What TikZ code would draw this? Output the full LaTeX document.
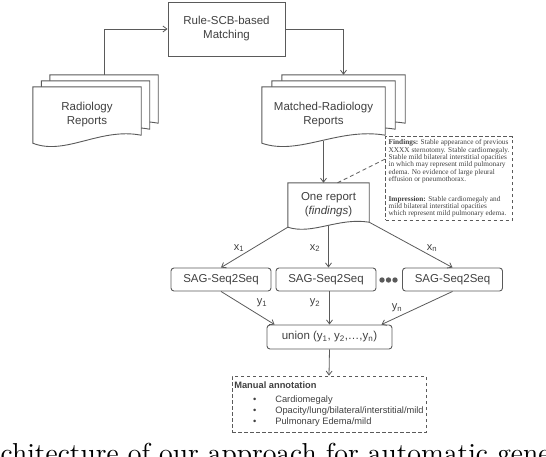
\documentclass[tikz,border=0pt]{standalone}
\usepackage{fontspec}
\usetikzlibrary{calc, arrows.meta, backgrounds}
\newfontfamily\arialfont{Liberation Sans}
\newfontfamily\timesfont{Liberation Serif}
\newfontfamily\capfont{lmroman10-regular.otf}
\definecolor{linegray}{HTML}{5A5A5A}
\definecolor{textgray}{HTML}{404040}

% outline of a report page, wavy lower edge
\newcommand{\pageoutline}[2]{%
  \draw[pageline] (#1.south west) -- (#1.north west) -- (#1.north east)
    -- ($(#1.south east)+(0,-#2)$)
    .. controls ($(#1.south west)!0.62!(#1.south east)+(0,-2*#2)$)
    and ($(#1.south west)!0.3!(#1.south east)+(0,1.6*#2)$) .. (#1.south west) -- cycle;}

\begin{document}
\begin{tikzpicture}[
    x=1pt, y=-1pt,
    >={Straight Barb[length=4pt,width=6pt]},
    sansfont/.style={text=textgray, font=\arialfont\fontsize{11.5}{14}\selectfont},
    rulebox/.style={rectangle, draw=linegray, line width=0.9pt, align=center, sansfont},
    reportpage/.style={rectangle, inner sep=0pt, minimum height=56pt, align=center, sansfont},
    pageline/.style={draw=linegray, line width=0.9pt, fill=white},
    seqbox/.style={rulebox, rounded corners=3pt, minimum width=100pt, minimum height=23pt},
    notebox/.style={rectangle, draw=linegray, line width=0.8pt, dash pattern=on 3.5pt off 2.5pt, align=left, text=textgray},
    flow/.style={draw=linegray, line width=0.8pt, ->},
    varlabel/.style={inner sep=0pt, text=textgray, font=\arialfont\fontsize{11}{13}\selectfont}
]
    \useasboundingbox (0,0) rectangle (546,456);
    \clip (0,0) rectangle (546,456);

    % matching step
    \node[rulebox, minimum width=117pt, minimum height=54pt] (rule) at (226.5,29) {Rule-SCB-based\\Matching};

    % report stacks
    \node[reportpage, minimum width=108pt] (rr) at (87,115) {Radiology\\Reports};
    \node[reportpage, minimum width=108pt] (rr2) at ($(rr)+(8.5,-6)$) {};
    \node[reportpage, minimum width=108pt] (rr3) at ($(rr)+(17,-12)$) {};

    \node[reportpage, minimum width=123pt] (mr) at (323.5,115) {Matched-Radiology\\Reports};
    \node[reportpage, minimum width=123pt] (mr2) at ($(mr)+(10,-6)$) {};
    \node[reportpage, minimum width=123pt] (mr3) at ($(mr)+(20,-12)$) {};

    \node[reportpage, minimum width=81pt, minimum height=44pt] (one) at (328.5,205) {One report\\(\textit{findings})};

    \begin{scope}[on background layer]
        \pageoutline{rr3}{8}
        \pageoutline{rr2}{8}
        \pageoutline{rr}{8}
        \pageoutline{mr3}{8}
        \pageoutline{mr2}{8}
        \pageoutline{mr}{8}
        \pageoutline{one}{5}
    \end{scope}

    % example report text
    \node[notebox, minimum width=126pt, inner sep=3pt, font=\timesfont\fontsize{7.3}{7.4}\selectfont] (find) at (449,178.5)
        {\textbf{Findings:} Stable appearance of previous\\
         XXXX sternotomy. Stable cardiomegaly.\\
         Stable mild bilateral interstitial opacities\\
         in which may represent mild pulmonary\\
         edema. No evidence of large pleural\\
         effusion or pneumothorax.\\[12pt]
         \textbf{Impression:} Stable cardiomegaly and\\
         mild bilateral interstitial opacities\\
         which represent mild pulmonary edema.};

    % models
    \node[seqbox] (sag1) at (221,279.5) {SAG-Seq2Seq};
    \node[seqbox] (sag2) at (326,279.5) {SAG-Seq2Seq};
    \node[seqbox] (sag3) at (452.5,279.5) {SAG-Seq2Seq};
    \foreach \dx in {382,388.5,395}
        \fill[linegray] (\dx,280) circle (2.7pt);

    \node[seqbox, minimum width=125pt, minimum height=24pt] (union) at (329.5,337) {union (y\textsubscript{1}, y\textsubscript{2},\ldots,y\textsubscript{n})};

    \node[notebox, minimum width=194pt, minimum height=56pt, inner sep=2pt, font=\arialfont\fontsize{9.3}{11}\selectfont] (manual) at (329,404)
        {\textbf{Manual annotation}\\[2.5pt]
         \makebox[41pt]{\textbullet}Cardiomegaly\\
         \makebox[41pt]{\textbullet}Opacity/lung/bilateral/interstitial/mild\\
         \makebox[41pt]{\textbullet}Pulmonary Edema/mild};

    % connectors
    \draw[flow] (rr3.north) |- (rule.west);
    \draw[flow] (rule.east) -| (mr3.north);
    \draw[flow] ([yshift=2pt]mr.south) -- (mr.south |- one.north);
    \draw[draw=linegray, line width=0.8pt, dash pattern=on 4pt off 3pt] ([xshift=9pt]one.north) -- ([yshift=19.5pt]find.west);

    \draw[flow] (one.south west) -- (sag1.north);
    \draw[flow] ([yshift=1pt]one.south) -- (one.south |- sag2.north);
    \draw[flow] ([yshift=5pt]one.south east) -- (sag3.north);

    \draw[flow] (sag1.south) -- ([xshift=8pt]union.north west);
    \draw[flow] (union.north |- sag2.south) -- (union.north);
    \draw[flow] (sag3.south) -- ([xshift=-11pt]union.north east);
    \draw[flow] (union.south) -- (manual.north);

    % variable labels
    \node[varlabel] (x1) at (239,248) {x\textsubscript{1}};
    \node[varlabel] (x2) at (315,248) {x\textsubscript{2}};
    \node[varlabel] (xn) at (432,248) {x\textsubscript{n}};
    \node[varlabel] (y1) at (262,303) {y\textsubscript{1}};
    \node[varlabel] (y2) at (315,303) {y\textsubscript{2}};
    \node[varlabel] (yn) at (397,308) {y\textsubscript{n}};

    % caption, cut off by the page edge
    \node[anchor=base west, inner sep=0pt, font=\capfont\fontsize{27.4}{30}\selectfont] (caption) at (0.5,462) {chitecture of our approach for automatic gene};
\end{tikzpicture}
\end{document}
